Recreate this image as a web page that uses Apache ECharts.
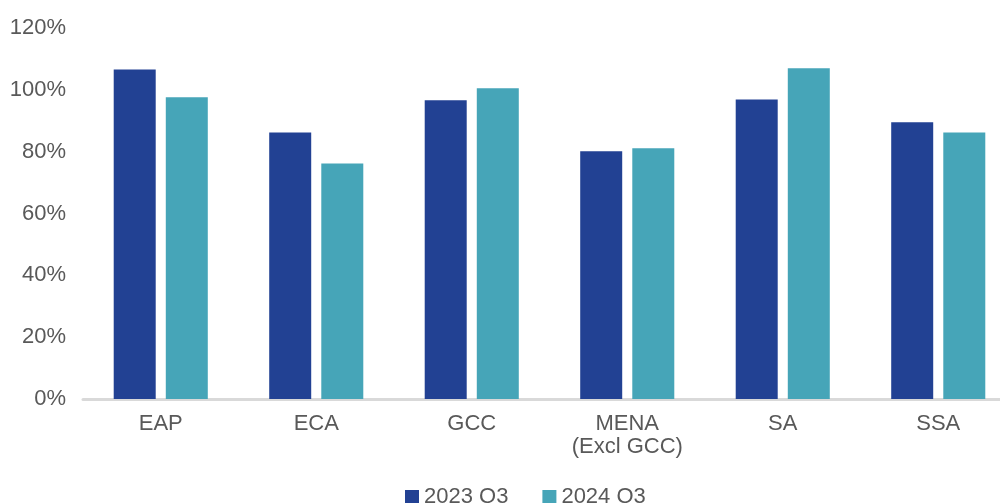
<!DOCTYPE html>
<html><head><meta charset="utf-8">
<script src="https://cdn.jsdelivr.net/npm/echarts@6/dist/echarts.min.js"></script>
<style>html,body{margin:0;padding:0;background:#fff}#c{width:1000px;height:503px}</style>
</head><body><div id="c"></div>
<script>
const categories = ['EAP', 'ECA', 'GCC', 'MENA\n(Excl GCC)', 'SA', 'SSA'];
const seriesNames = ['2023 Q3', '2024 Q3'];
const values2023 = [106.6, 86.2, 96.6, 80.1, 96.9, 89.5];
const values2024 = [97.6, 76.2, 100.5, 81.1, 107.0, 86.2];
const yTicks = [0, 20, 40, 60, 80, 100, 120];

const chart = echarts.init(document.getElementById('c'), null, {renderer: 'canvas'});
const font = 'Liberation Sans, Arial, sans-serif';
chart.setOption({
  animation: false,
  textStyle: {fontFamily: font},
  grid: {left: 83, top: 28, right: -16, bottom: 104, containLabel: false, outerBoundsMode: 'none'},
  legend: {
    left: 405, top: 486, padding: 0, itemWidth: 14, itemHeight: 14, itemGap: 34,
    icon: 'rect',
    textStyle: {fontSize: 22, color: '#595959', fontFamily: font},
    data: seriesNames
  },
  xAxis: {
    type: 'category', data: categories,
    axisLine: {lineStyle: {color: '#d9d9d9', width: 3}},
    axisTick: {show: false},
    axisLabel: {fontSize: 22, color: '#595959', fontFamily: font, margin: 13, lineHeight: 23}
  },
  yAxis: {
    type: 'value', min: yTicks[0], max: yTicks[yTicks.length - 1], interval: 20,
    axisLine: {show: false}, axisTick: {show: false},
    splitLine: {show: false},
    axisLabel: {fontSize: 22, color: '#595959', fontFamily: font, margin: 17, formatter: v => v + '%'}
  },
  series: [
    {name: seriesNames[0], type: 'bar', data: values2023, barWidth: 42, barGap: '24%', itemStyle: {color: '#224193'}},
    {name: seriesNames[1], type: 'bar', data: values2024, barWidth: 42, barGap: '24%', itemStyle: {color: '#46a5b8'}}
  ]
});
</script></body></html>
